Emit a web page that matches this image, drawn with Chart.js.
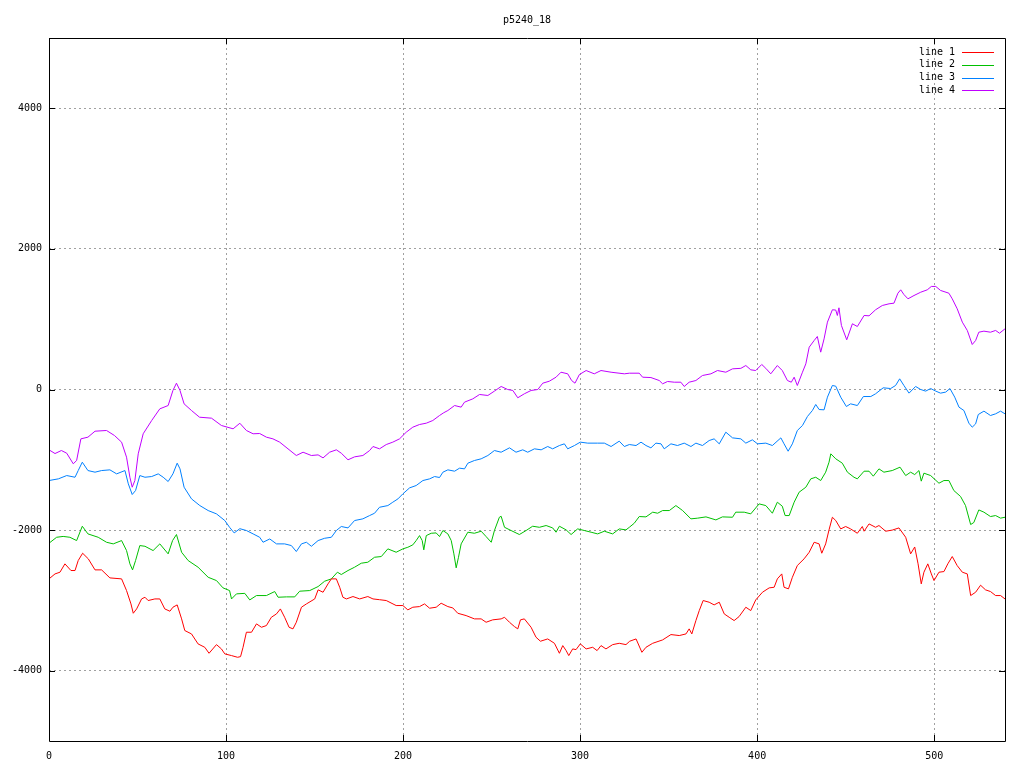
<!DOCTYPE html>
<html>
<head>
<meta charset="utf-8">
<title>p5240_18</title>
<script src="https://cdn.jsdelivr.net/npm/chart.js@4.4.1/dist/chart.umd.min.js"></script>
<style>
  html, body { margin: 0; padding: 0; background: #fff; }
  canvas { display: block; }
</style>
</head>
<body>
<canvas id="plot" width="1024" height="768"></canvas>
<script>
var chartTitle = 'p5240_18';
var xTicks = [0, 100, 200, 300, 400, 500];
var yTicks = [-4000, -2000, 0, 2000, 4000];
var seriesNames = ['line 1', 'line 2', 'line 3', 'line 4'];
var seriesColors = ['#ff0000', '#00c000', '#0080ff', '#c000ff'];

// [x, y] pairs
var line1 = [[0,-2694],[3.4,-2623],[6.2,-2599],[9,-2480],[12.4,-2575],[14.7,-2575],[16.5,-2433],[19,-2329],[22.2,-2409],[26,-2566],[29.7,-2566],[34.4,-2680],[41,-2694],[43.8,-2860],[46.3,-3050],[47.6,-3183],[49.5,-3121],[52.3,-2979],[54.2,-2955],[56,-3002],[59.8,-2979],[62.6,-2979],[65.4,-3121],[68.3,-3154],[70,-3097],[72.4,-3064],[74.9,-3263],[76.7,-3429],[80.5,-3477],[84.2,-3619],[88,-3667],[90.4,-3752],[94.6,-3629],[97.4,-3690],[99.3,-3761],[103.1,-3785],[106.5,-3809],[108.2,-3800],[109.6,-3667],[111.5,-3453],[114.4,-3453],[117.2,-3334],[120,-3382],[122.8,-3358],[125.6,-3240],[128.5,-3192],[130.7,-3121],[133.1,-3240],[135.6,-3382],[137.8,-3405],[139.7,-3311],[142.6,-3097],[145.4,-3050],[150.1,-2979],[152,-2850],[154.8,-2884],[157.6,-2765],[159.5,-2694],[162.3,-2694],[164.2,-2813],[166,-2955],[168,-2979],[171.7,-2945],[175.5,-2979],[180.1,-2945],[183,-2979],[186.7,-2990],[190.5,-3002],[196.1,-3073],[199.9,-3073],[202.7,-3135],[205.5,-3097],[209.3,-3088],[212.1,-3050],[215,-3111],[218.7,-3097],[221.5,-3040],[225.3,-3088],[228.1,-3107],[230.9,-3183],[235.6,-3216],[240.3,-3263],[244.1,-3263],[246.9,-3311],[250.6,-3277],[255.4,-3263],[257.3,-3240],[260.1,-3311],[262.9,-3372],[264.8,-3405],[266.3,-3277],[268.5,-3263],[272.3,-3382],[275.1,-3524],[277.6,-3581],[281.7,-3548],[285.5,-3610],[288.3,-3752],[290.2,-3643],[292.1,-3714],[293.6,-3785],[295.8,-3690],[297.7,-3700],[300.1,-3619],[303.4,-3690],[307.1,-3667],[309.6,-3714],[311.8,-3643],[314.6,-3690],[318.4,-3629],[322.1,-3610],[325.9,-3629],[328,-3581],[331.6,-3548],[334.9,-3738],[337.2,-3667],[341,-3610],[346.6,-3562],[351.3,-3486],[356,-3500],[359.8,-3477],[361.6,-3405],[363.1,-3477],[365.4,-3287],[367.3,-3145],[369.5,-3002],[372.9,-3026],[375.7,-3064],[378.6,-3026],[381.4,-3192],[384.2,-3240],[387,-3287],[389.8,-3230],[393.6,-3097],[396.4,-3145],[399.2,-2993],[403,-2884],[406.8,-2822],[409.6,-2813],[411.4,-2694],[413.9,-2623],[415.2,-2813],[417.7,-2836],[419.9,-2671],[422.7,-2504],[426.5,-2409],[429.4,-2315],[432.2,-2173],[435,-2196],[436.5,-2329],[438.7,-2196],[440.6,-1997],[442.5,-1817],[444.4,-1864],[447.2,-1983],[450,-1949],[452.8,-1983],[456.6,-2045],[459.4,-1949],[460.4,-2016],[463.2,-1912],[466.9,-1960],[468.8,-1935],[472.6,-2016],[476.3,-2000],[480.1,-1969],[483.9,-2102],[486.7,-2338],[489,-2240],[490.9,-2480],[492.7,-2765],[494.2,-2599],[496.4,-2480],[498.4,-2623],[499.9,-2718],[502.7,-2599],[505.5,-2590],[507.7,-2480],[510.2,-2376],[513,-2505],[515.9,-2599],[518.7,-2623],[520.6,-2931],[523.4,-2884],[526.2,-2784],[529,-2850],[531.8,-2874],[534.7,-2931],[537.5,-2931],[540,-2979]];

var line2 = [[0,-2187],[4.3,-2102],[8,-2090],[11.8,-2102],[15.6,-2149],[18.8,-1945],[22,-2054],[27.8,-2102],[32.5,-2173],[36.3,-2196],[41,-2149],[43.8,-2291],[45.7,-2480],[47.2,-2566],[48.9,-2433],[51.3,-2220],[54.2,-2230],[58.8,-2291],[62.6,-2196],[67.3,-2338],[69.8,-2149],[72,-2063],[74.9,-2315],[78.6,-2433],[84.2,-2528],[89.9,-2671],[94.6,-2718],[98.3,-2822],[102,-2860],[103.1,-2979],[105.9,-2907],[110.6,-2900],[113.4,-2993],[117.2,-2931],[122.8,-2931],[127.5,-2874],[129.4,-2955],[134.1,-2950],[138.8,-2950],[141.6,-2869],[147.3,-2860],[152,-2803],[155.7,-2727],[159.5,-2694],[162.9,-2599],[165.1,-2632],[168.9,-2575],[172.6,-2528],[176.4,-2471],[180.1,-2457],[183.9,-2386],[187.7,-2376],[191.4,-2267],[196.1,-2315],[199.9,-2267],[202.7,-2244],[205.5,-2210],[207.4,-2149],[209.3,-2078],[210.8,-2149],[211.7,-2281],[213.1,-2078],[215.9,-2045],[218.7,-2040],[220.6,-2092],[222.5,-2006],[225.3,-2054],[227.2,-2149],[228.7,-2338],[230,-2537],[231.3,-2386],[232.8,-2196],[236.6,-2030],[240.3,-2045],[244.1,-2016],[246.9,-2092],[249.8,-2173],[251.6,-2006],[254.4,-1817],[255.4,-1803],[257.3,-1960],[261,-2006],[265.7,-2063],[269.5,-2006],[273.2,-1945],[277,-1960],[280.8,-1935],[284.5,-1969],[286.4,-2030],[288.3,-1945],[292.1,-1997],[294.9,-2063],[298.6,-1983],[302.4,-2006],[306.2,-2030],[309.9,-2054],[313.7,-2016],[318.4,-2054],[322.1,-1983],[325.9,-1997],[327.8,-1960],[330.6,-1902],[333.4,-1807],[337.2,-1812],[341,-1745],[343.8,-1760],[346.6,-1722],[350.4,-1722],[354.1,-1651],[357.9,-1722],[362.6,-1840],[366.4,-1830],[371.1,-1812],[376.7,-1855],[380.4,-1812],[386.1,-1817],[387.9,-1745],[392.7,-1745],[396.4,-1769],[401.1,-1627],[404.9,-1651],[408.6,-1760],[411.4,-1603],[414.2,-1660],[415.8,-1793],[418.1,-1793],[420.9,-1603],[423.7,-1461],[427.5,-1390],[430.3,-1271],[433.1,-1248],[435.9,-1295],[438.7,-1176],[440.6,-1034],[441.6,-915],[444.4,-986],[448.1,-1048],[451,-1176],[454.7,-1248],[456.6,-1271],[460.4,-1162],[463.2,-1162],[465.6,-1233],[468.8,-1129],[471.6,-1176],[476.3,-1153],[480.7,-1105],[483.9,-1224],[486.7,-1176],[489,-1210],[491.4,-1153],[492.7,-1304],[494.2,-1190],[498,-1224],[502.7,-1333],[505.5,-1295],[508.3,-1295],[511.1,-1437],[514.9,-1522],[517.7,-1651],[520.6,-1921],[522.4,-1892],[525.2,-1713],[528.1,-1745],[531.8,-1807],[534.7,-1793],[537.5,-1830],[540,-1817]];

var line3 = [[0,-1295],[5.3,-1271],[10,-1224],[14.7,-1248],[16.5,-1153],[18.8,-1034],[22,-1153],[26,-1176],[29.7,-1153],[34.4,-1143],[38.2,-1200],[42.9,-1153],[44.8,-1342],[47,-1494],[48.9,-1437],[51.3,-1224],[54.2,-1248],[58,-1238],[61.7,-1200],[64.5,-1248],[67.3,-1309],[70,-1200],[72.4,-1048],[74,-1129],[76.3,-1390],[80.5,-1556],[85.2,-1651],[89.9,-1722],[94.6,-1769],[99.3,-1864],[102,-1960],[104.6,-2040],[107.8,-1980],[111.5,-2006],[115.3,-2054],[119,-2102],[120.9,-2173],[124.7,-2126],[128.5,-2196],[133.1,-2196],[136.9,-2220],[139.7,-2305],[142.6,-2196],[145.4,-2173],[148.2,-2230],[152,-2149],[155.7,-2116],[159.5,-2102],[162.3,-2006],[165.1,-1949],[168.9,-1969],[172.6,-1864],[177.3,-1840],[181.1,-1793],[183.9,-1760],[186.7,-1675],[191.4,-1651],[194.2,-1603],[197.1,-1556],[199.9,-1484],[203.7,-1399],[207.4,-1366],[211.2,-1295],[215,-1271],[217.8,-1238],[220.6,-1252],[222.5,-1176],[225.3,-1143],[229.1,-1162],[231.9,-1119],[234.7,-1129],[236.6,-1048],[240.3,-1010],[244.1,-986],[247.9,-939],[251.6,-868],[255.4,-892],[260.1,-830],[263.8,-892],[267.6,-858],[270.4,-892],[274.2,-844],[278,-858],[281.7,-811],[284.5,-844],[288.3,-797],[291.1,-773],[293,-844],[296.8,-797],[300.1,-749],[304.3,-763],[309.9,-763],[313.7,-763],[317.5,-811],[322.1,-735],[325,-811],[327.8,-783],[331.6,-797],[334.4,-749],[337.2,-797],[340,-830],[342.8,-763],[345.7,-773],[347.5,-844],[351.3,-773],[355,-797],[358.8,-763],[362.6,-811],[365.4,-763],[369.1,-797],[372.9,-726],[375.7,-702],[378.6,-773],[382.3,-607],[386.1,-688],[390.8,-702],[393.6,-763],[397.3,-716],[400.2,-773],[404.9,-763],[408.6,-797],[413.4,-688],[415.2,-773],[417.5,-878],[419.9,-773],[422.7,-583],[425.6,-512],[428.4,-384],[431.2,-299],[433.1,-213],[435,-285],[437.8,-289],[439.7,-109],[442.5,57],[444.4,47],[447.2,-109],[450.4,-242],[452.8,-204],[456.6,-228],[460,-100],[464.2,-100],[466.9,-61],[471.2,24],[475.4,14],[478.2,57],[480.5,152],[482.9,57],[485.8,-52],[489.5,43],[492.4,0],[495.2,-23],[498,14],[500.9,-23],[503.6,-52],[506.5,-37],[508.9,14],[511.6,-109],[514,-251],[516.8,-299],[519.6,-479],[521.5,-536],[523.4,-489],[524.9,-356],[528.1,-308],[531.8,-370],[534.7,-346],[537.5,-308],[540,-346]];

var line4 = [[0,-858],[3.4,-911],[7,-868],[10,-906],[13.7,-1057],[15.6,-1010],[18,-702],[22,-678],[26,-593],[32.5,-583],[37,-655],[41,-749],[43.8,-963],[45.7,-1248],[47,-1390],[48.5,-1295],[50.4,-915],[53.2,-630],[58,-441],[62.6,-275],[67.3,-228],[70,-14],[72,90],[74,-14],[76.3,-204],[80.5,-299],[85,-394],[91.8,-408],[97.4,-512],[104,-559],[107.8,-480],[111.5,-583],[115.3,-630],[119,-626],[122.8,-678],[126.5,-702],[130.3,-749],[135,-844],[139.7,-939],[143.5,-892],[148.2,-939],[152,-930],[154.8,-973],[158.5,-892],[162.3,-858],[165.1,-906],[168.9,-1000],[172.6,-958],[177.3,-939],[181.1,-868],[183,-811],[186.7,-844],[190.5,-783],[194.2,-749],[198,-702],[201.8,-607],[205.5,-536],[209.3,-498],[213.1,-479],[216.8,-441],[220.6,-370],[223,-330],[225.3,-299],[229.1,-228],[232.8,-251],[234.7,-180],[239.4,-133],[243.2,-71],[247.9,-85],[251.6,-23],[255.4,43],[259.1,0],[262,-14],[264.8,-118],[268.5,-61],[272.3,-14],[276.1,0],[278.9,90],[282.6,118],[286.4,175],[289.2,246],[293,223],[295.2,128],[297.1,90],[299.6,213],[303.4,270],[308,223],[311.8,270],[317.5,246],[325,223],[327.8,232],[333.4,232],[335.3,175],[340,170],[344.7,128],[346.6,81],[349.4,114],[353.2,104],[356.9,104],[358.8,43],[361.6,104],[365.4,128],[369.1,199],[373.9,223],[377.6,270],[382.3,246],[386.1,294],[390.8,301],[393.6,341],[396.4,280],[399.2,270],[402.6,356],[404.9,301],[407.7,223],[411.4,341],[414.2,270],[417.1,128],[419.3,104],[420.9,175],[422.7,57],[425.6,246],[427.5,365],[429.4,602],[432.2,697],[434,754],[435.9,531],[437.8,720],[439.7,958],[442.5,1134],[444.4,1130],[445.3,1053],[446.2,1162],[447.6,911],[450.6,707],[453.8,935],[456.6,896],[460.4,1053],[463.2,1048],[466.9,1134],[470.7,1195],[474.5,1219],[477.3,1228],[479.5,1370],[481.1,1418],[482.9,1351],[485.2,1290],[488.6,1337],[492.4,1384],[496.1,1418],[498.4,1466],[500.9,1466],[503.6,1409],[508.3,1370],[510.2,1290],[513,1148],[515.9,958],[518.7,840],[521.5,640],[523.4,697],[525.2,815],[528.1,830],[531.8,815],[534.7,840],[536.9,801],[540,863]];

var allLines = [line1, line2, line3, line4];
var monoFont = "'DejaVu Sans Mono', 'Liberation Mono', monospace";

function toPoints(arr){
  return arr.map(function(p){ return {x: p[0], y: p[1]}; });
}

function plainLabel(value){
  return String(value);
}

var datasets = allLines.map(function(arr, i){
  return {
    label: seriesNames[i],
    data: toPoints(arr),
    borderColor: seriesColors[i],
    backgroundColor: seriesColors[i],
    borderWidth: 1,
    pointRadius: 0,
    tension: 0,
    fill: false
  };
});

// gnuplot style frame, inward ticks, title and key
var gnuFrame = {
  id: 'gnuFrame',
  afterDraw: function(chart){
    var ctx = chart.ctx;
    var a = chart.chartArea;
    var xs = chart.scales.x, ys = chart.scales.y;
    var tl = 6;
    ctx.save();
    ctx.strokeStyle = '#000';
    ctx.lineWidth = 1;
    ctx.beginPath();
    ctx.rect(Math.round(a.left) + 0.5, Math.round(a.top) + 0.5,
             Math.round(a.right - a.left), Math.round(a.bottom - a.top));
    xTicks.forEach(function(v){
      var px = Math.round(xs.getPixelForValue(v)) + 0.5;
      ctx.moveTo(px, a.bottom); ctx.lineTo(px, a.bottom - tl);
      ctx.moveTo(px, a.top); ctx.lineTo(px, a.top + tl);
    });
    yTicks.forEach(function(v){
      var py = Math.round(ys.getPixelForValue(v)) + 0.5;
      ctx.moveTo(a.left, py); ctx.lineTo(a.left + tl, py);
      ctx.moveTo(a.right, py); ctx.lineTo(a.right - tl, py);
    });
    ctx.stroke();

    ctx.fillStyle = '#000';
    ctx.font = '10px ' + monoFont;
    ctx.textBaseline = 'middle';
    ctx.textAlign = 'center';
    ctx.fillText(chartTitle, (a.left + a.right) / 2, 20);

    ctx.textAlign = 'right';
    chart.data.datasets.forEach(function(ds, i){
      var yy = 52 + i * 12.8;
      ctx.fillStyle = '#000';
      ctx.fillText(ds.label, 955, yy);
      ctx.strokeStyle = ds.borderColor;
      ctx.beginPath();
      ctx.moveTo(962, Math.round(yy) + 0.5);
      ctx.lineTo(994, Math.round(yy) + 0.5);
      ctx.stroke();
    });
    ctx.restore();
  }
};

new Chart(document.getElementById('plot').getContext('2d'), {
  type: 'line',
  data: { datasets: datasets },
  options: {
    responsive: false,
    animation: false,
    devicePixelRatio: 1,
    layout: { padding: { top: 38, right: 19, left: 0, bottom: 0 } },
    plugins: {
      legend: { display: false },
      title: { display: false },
      tooltip: { enabled: false }
    },
    scales: {
      x: {
        type: 'linear',
        min: 0,
        max: 540,
        afterBuildTicks: function(scale){
          scale.ticks = xTicks.map(function(v){ return {value: v}; });
        },
        afterFit: function(scale){ scale.height = 27; },
        grid: { color: '#a0a0a0', lineWidth: 1, drawTicks: false },
        border: { display: false, dash: [2, 3] },
        ticks: { color: '#000', padding: 9, maxRotation: 0, callback: plainLabel, font: { family: monoFont, size: 10 } }
      },
      y: {
        type: 'linear',
        min: -5000,
        max: 5000,
        afterBuildTicks: function(scale){
          scale.ticks = yTicks.map(function(v){ return {value: v}; });
        },
        afterFit: function(scale){ scale.width = 49; },
        grid: { color: '#a0a0a0', lineWidth: 1, drawTicks: false },
        border: { display: false, dash: [2, 3] },
        ticks: { color: '#000', padding: 7, callback: plainLabel, font: { family: monoFont, size: 10 } }
      }
    }
  },
  plugins: [gnuFrame]
});
</script>
</body>
</html>
